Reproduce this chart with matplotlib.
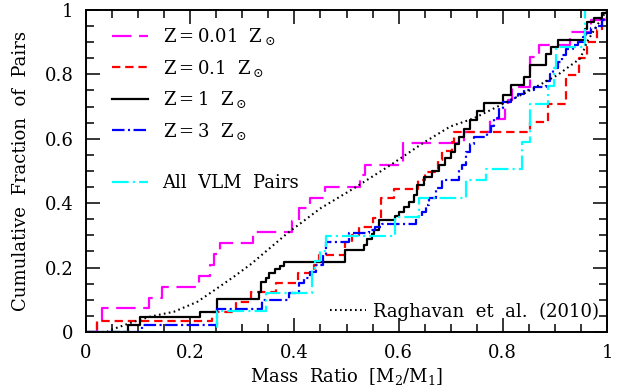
import matplotlib
matplotlib.use("Agg")
import matplotlib.pyplot as plt
from matplotlib.ticker import MultipleLocator, FuncFormatter

plt.rcParams['font.family'] = ['DejaVu Serif']
plt.rcParams['mathtext.fontset'] = 'dejavuserif'
plt.rcParams['lines.scale_dashes'] = False

# ---- data (step CDFs) ----
z001_x = [0.0, 0.021, 0.03, 0.12, 0.146, 0.217, 0.238, 0.245, 0.258, 0.321, 0.395, 0.408, 0.43,
          0.459, 0.526, 0.535, 0.609, 0.725, 0.775, 0.804, 0.81, 0.817, 0.852, 0.87, 0.929, 0.97, 0.995]
z001_y = [0.0, 0.037, 0.074, 0.107, 0.141, 0.174, 0.208, 0.243, 0.277, 0.311, 0.345, 0.384, 0.415,
          0.451, 0.488, 0.519, 0.586, 0.622, 0.66, 0.70, 0.72, 0.76, 0.855, 0.89, 0.932, 0.969, 1.0]

z01_x = [0.0, 0.021, 0.242, 0.287, 0.316, 0.364, 0.406, 0.438, 0.447, 0.498, 0.51, 0.524, 0.55,
         0.566, 0.591, 0.638, 0.65, 0.676, 0.683, 0.703, 0.706, 0.853, 0.886, 0.921, 0.946, 0.962,
         0.98, 0.99, 1.0]
z01_y = [0.0, 0.035, 0.063, 0.094, 0.125, 0.151, 0.182, 0.208, 0.239, 0.28, 0.30, 0.327, 0.353,
         0.415, 0.443, 0.472, 0.498, 0.534, 0.562, 0.591, 0.62, 0.651, 0.708, 0.797, 0.852, 0.9,
         0.938, 0.969, 1.0]

z1_x = [0.0, 0.081, 0.103, 0.218, 0.251, 0.332, 0.335, 0.345, 0.352, 0.362, 0.372, 0.38, 0.498,
        0.534, 0.54, 0.548, 0.553, 0.562, 0.594, 0.6, 0.61, 0.62, 0.63, 0.635, 0.649, 0.665, 0.678,
        0.69, 0.7, 0.708, 0.716, 0.726, 0.738, 0.75, 0.764, 0.8, 0.815, 0.841, 0.853, 0.882, 0.893,
        0.905, 0.957, 0.962, 0.975, 0.99, 1.0]
z1_y = [0.0, 0.023, 0.045, 0.063, 0.101, 0.125, 0.156, 0.168, 0.182, 0.195, 0.205, 0.216, 0.255,
        0.27, 0.29, 0.305, 0.317, 0.348, 0.36, 0.374, 0.389, 0.405, 0.425, 0.457, 0.482, 0.50, 0.52,
        0.54, 0.56, 0.585, 0.607, 0.63, 0.658, 0.685, 0.71, 0.736, 0.767, 0.793, 0.829, 0.862, 0.886,
        0.907, 0.94, 0.964, 0.975, 0.99, 1.0]

z3_x = [0.0, 0.107, 0.251, 0.338, 0.39, 0.409, 0.418, 0.43, 0.441, 0.454, 0.46, 0.505, 0.543,
        0.555, 0.568, 0.633, 0.645, 0.652, 0.658, 0.672, 0.683, 0.716, 0.722, 0.73, 0.738, 0.745,
        0.77, 0.778, 0.783, 0.793, 0.8, 0.815, 0.83, 0.841, 0.86, 0.882, 0.89, 0.897, 0.905, 0.913,
        0.921, 0.935, 0.945, 0.953, 0.96, 0.97, 0.98, 0.99, 1.0]
z3_y = [0.0, 0.022, 0.07, 0.1, 0.12, 0.151, 0.167, 0.185, 0.208, 0.239, 0.28, 0.306, 0.317,
        0.325, 0.334, 0.358, 0.374, 0.394, 0.415, 0.446, 0.472, 0.50, 0.52, 0.56, 0.585, 0.607,
        0.62, 0.64, 0.664, 0.695, 0.715, 0.726, 0.74, 0.752, 0.76, 0.78, 0.80, 0.82, 0.84, 0.86,
        0.88, 0.89, 0.90, 0.917, 0.93, 0.943, 0.95, 0.97, 1.0]

vlm_x = [0.0, 0.251, 0.345, 0.434, 0.44, 0.45, 0.46, 0.594, 0.64, 0.729, 0.767, 0.837, 0.853,
         0.886, 0.898, 0.902, 0.958]
vlm_y = [0.0, 0.065, 0.122, 0.20, 0.22, 0.25, 0.298, 0.357, 0.415, 0.472, 0.506, 0.591, 0.707,
         0.764, 0.82, 0.884, 1.0]

rag_x = [0.04, 0.047, 0.092, 0.124, 0.169, 0.214, 0.252, 0.284, 0.316, 0.386, 0.45, 0.514, 0.585,
         0.649, 0.699, 0.745, 0.841, 0.905, 0.949, 0.962, 0.98, 1.0]
rag_y = [0.0, 0.006, 0.032, 0.048, 0.063, 0.094, 0.136, 0.172, 0.21, 0.306, 0.384, 0.446, 0.519,
         0.589, 0.638, 0.664, 0.741, 0.798, 0.85, 0.902, 0.95, 1.0]

labels = [r'Z$=$0.01  Z$_\odot$', r'Z$=$0.1  Z$_\odot$', r'Z$=$1  Z$_\odot$', r'Z$=$3  Z$_\odot$']
vlm_label = 'All  VLM  Pairs'
rag_label = 'Raghavan  et  al.  (2010)'

fig = plt.figure(figsize=(6.25, 3.92), dpi=100)
ax = fig.add_axes([0.1376, 0.1531, 0.8336, 0.8214])

lw = 1.6
h1, = ax.step(z001_x, z001_y, where='post', color='#ff00ff', lw=lw, dashes=(14, 5.5))
h2, = ax.step(z01_x, z01_y, where='post', color='#ff0000', lw=lw, dashes=(6, 3.5))
h3, = ax.step(z1_x, z1_y, where='post', color='black', lw=lw)
h4, = ax.step(z3_x, z3_y, where='post', color='#0000ff', lw=lw, dashes=(9, 2.5, 1.5, 2.5))
h5, = ax.step(vlm_x, vlm_y, where='post', color='#00ffff', lw=lw, dashes=(12, 3, 1.5, 3))
h6, = ax.plot(rag_x, rag_y, color='black', lw=1.5, dashes=(1.2, 2.4))

ax.set_xlim(0, 1)
ax.set_ylim(0, 1)

fmt = FuncFormatter(lambda v, p: '0' if abs(v) < 1e-9 else ('1' if abs(v - 1) < 1e-9 else f'{v:.1f}'))
for axis in (ax.xaxis, ax.yaxis):
    axis.set_major_locator(MultipleLocator(0.2))
    axis.set_minor_locator(MultipleLocator(0.05))
    axis.set_major_formatter(fmt)
ax.tick_params(which='both', direction='in', top=True, right=True, width=1.1)
ax.tick_params(which='major', length=10)
ax.tick_params(which='minor', length=5.8)
ax.tick_params(axis='x', which='major', pad=9, labelsize=13)
ax.tick_params(axis='y', which='major', pad=9, labelsize=13)
for s in ax.spines.values():
    s.set_linewidth(1.4)

ax.set_xlabel(r'Mass  Ratio  [M$_2$/M$_1$]', fontsize=13)
ax.set_ylabel('Cumulative  Fraction  of  Pairs', fontsize=13)
ax.xaxis.set_label_coords(0.5, -0.105)
ax.yaxis.set_label_coords(-0.108, 0.5)

leg1 = ax.legend([h1, h2, h3, h4], labels, loc='upper left', bbox_to_anchor=(0.05, 0.95),
                 frameon=False, fontsize=13, handlelength=2.0, handletextpad=0.8,
                 labelspacing=0.58, borderpad=0, borderaxespad=0)
ax.add_artist(leg1)
leg2 = ax.legend([h5], [vlm_label], loc='upper left', bbox_to_anchor=(0.05, 0.49),
                 frameon=False, fontsize=13, handlelength=2.0, handletextpad=0.8,
                 borderpad=0, borderaxespad=0)
ax.add_artist(leg2)
leg3 = ax.legend([h6], [rag_label], loc='lower right', bbox_to_anchor=(0.985, 0.035),
                 frameon=False, fontsize=13, handlelength=2.0, handletextpad=0.4,
                 borderpad=0, borderaxespad=0)

fig.savefig('out.png', dpi=100)
